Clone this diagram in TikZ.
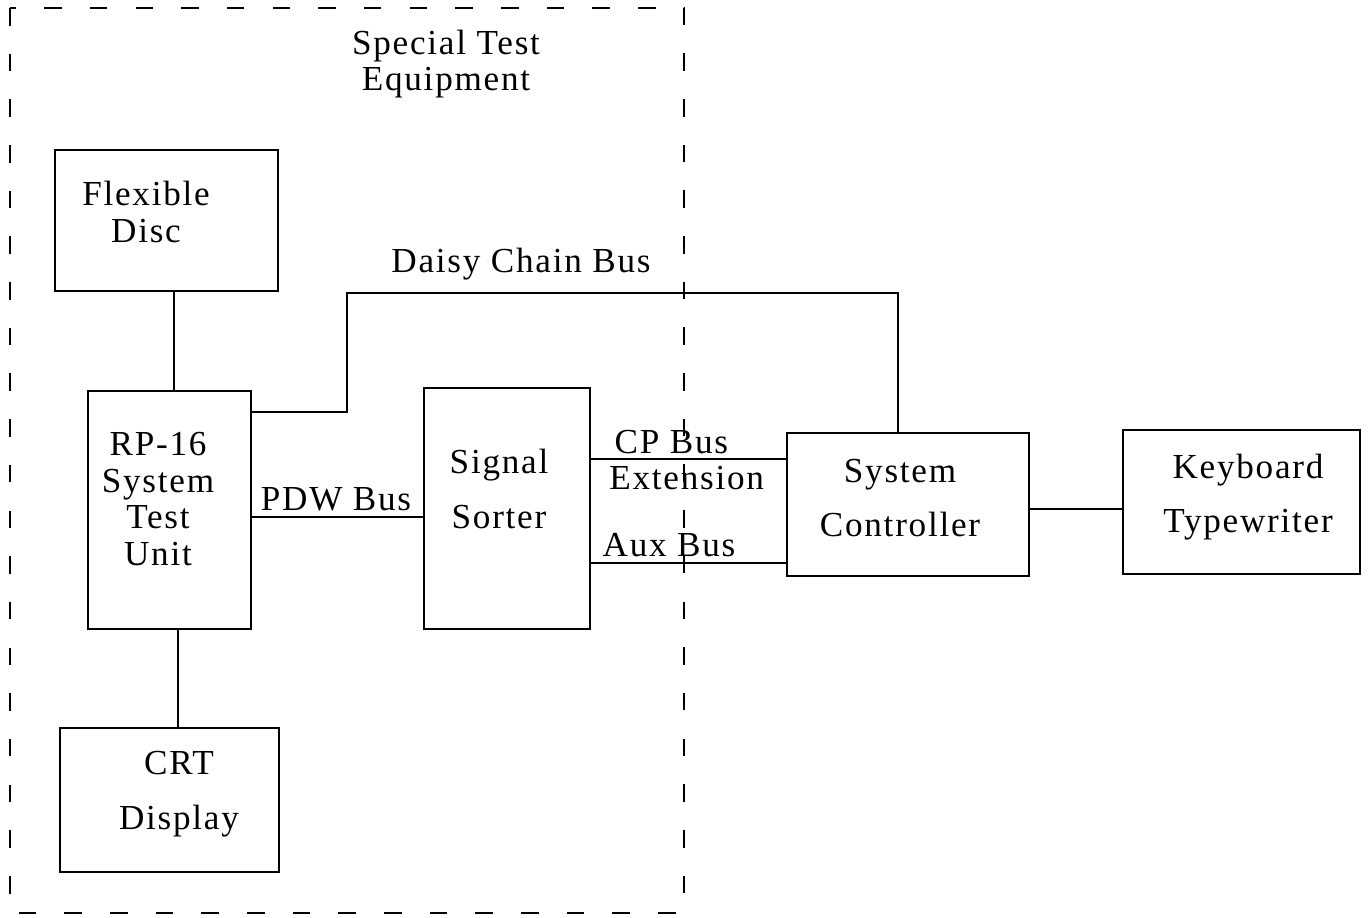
\documentclass[tikz,border=0pt]{standalone}
\usepackage{fontspec}
\setmainfont{Liberation Serif}[LetterSpace=5]
\usepackage{tikz}

\begin{document}
\begin{tikzpicture}[x=0.02cm, y=-0.02cm,
    blk/.style={draw, line width=1pt, inner sep=0pt},
    txt/.style={align=center, inner sep=0pt, font=\fontsize{20}{21}\selectfont},
    bus/.style={line width=1pt}]
        \useasboundingbox (0,0) rectangle (1368,917);

        % special test equipment frame
        \draw[line width=1pt, dash pattern=on 10pt off 16pt] (10,8) rectangle (684,913);
        \node[txt] (ste) at (446,64) {Special Test\\Equipment};

        % blocks
        \node[blk, minimum width=4.46cm, minimum height=2.82cm] (fd) at (166.5,220.5) {};
        \node[blk, minimum width=3.26cm, minimum height=4.76cm] (rp) at (169.5,510) {};
        \node[blk, minimum width=4.38cm, minimum height=2.88cm] (crt) at (169.5,800) {};
        \node[blk, minimum width=3.32cm, minimum height=4.82cm] (ss) at (507,508.5) {};
        \node[blk, minimum width=4.84cm, minimum height=2.86cm] (ctrl) at (908,504.5) {};
        \node[blk, minimum width=4.74cm, minimum height=2.88cm] (kb) at (1241.5,502) {};

        \node[txt] (fdt) at (146,212) {Flexible\\Disc};
        \node[txt] (rpt) at (158,499) {RP-16\\System\\Test\\Unit};
        \node[txt] (crtt) at (179,794) {CRT\\[10pt]Display};
        \node[txt] (sst) at (499,489) {Signal\\[10pt]Sorter};
        \node[txt] (ctrlt) at (900,498) {System\\[10pt]Controller};
        \node[txt] (kbt) at (1248,497) {Keyboard\\[10pt]Typewriter};

        % bus labels
        \node[txt] (dcb) at (521,264) {Daisy Chain Bus};
        \node[txt] (pdwb) at (336,499) {PDW Bus};
        \node[txt, align=left, anchor=west] (cpb) at (609,460) {\hspace{3pt}CP Bus\\Extension};
        \node[txt] (auxb) at (669,545) {Aux Bus};

        % connections
        \coordinate (fdl) at (174,340);
        \draw[bus] (fdl |- fd.south) -- (fdl |- rp.north);
        \coordinate (crtl) at (178,680);
        \draw[bus] (crtl |- rp.south) -- (crtl |- crt.north);

        \coordinate (dcl) at (347,412);
        \coordinate (dcr) at (898,293);
        \draw[bus] (dcl -| rp.east) -- (dcl) |- (dcr) -- (dcr |- ctrl.north);

        \coordinate (pdw) at (340,517);
        \draw[bus] (pdw -| rp.east) -- (pdw -| ss.west);

        \coordinate (cp) at (690,459);
        \draw[bus] (cp -| ss.east) -- (cp -| ctrl.west);
        \coordinate (aux) at (690,563);
        \draw[bus] (aux -| ss.east) -- (aux -| ctrl.west);

        \coordinate (kbl) at (1076,509);
        \draw[bus] (kbl -| ctrl.east) -- (kbl -| kb.west);
\end{tikzpicture}
\end{document}
